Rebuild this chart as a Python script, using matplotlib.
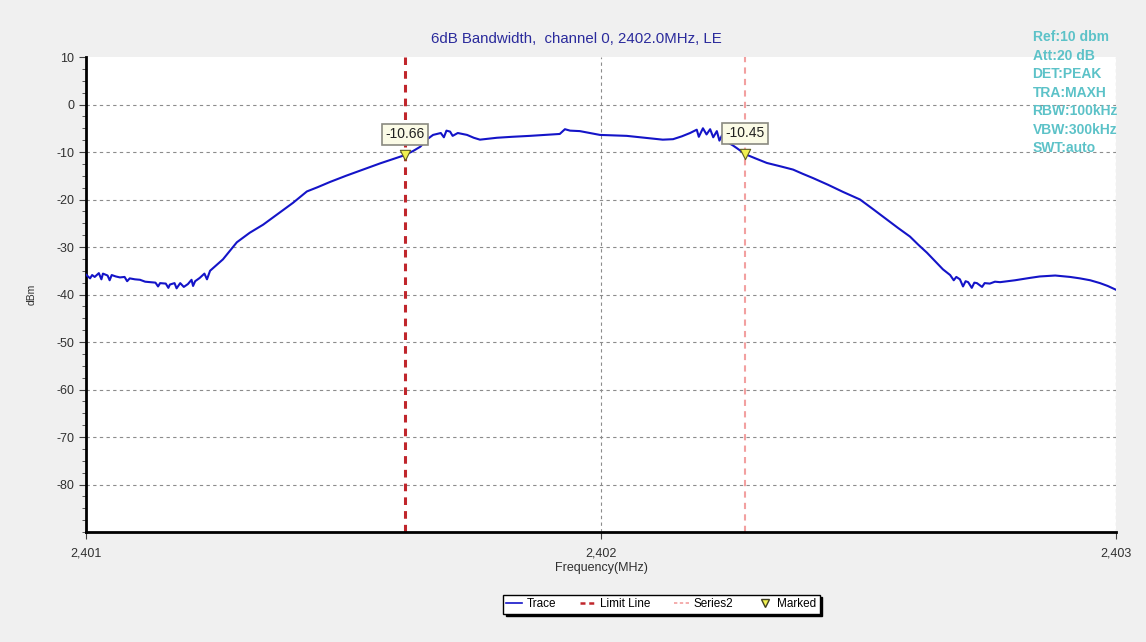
import matplotlib
matplotlib.use("Agg")
import matplotlib.pyplot as plt
from matplotlib.ticker import MultipleLocator, FuncFormatter
from matplotlib.lines import Line2D

plt.rcParams['font.family'] = ['Liberation Sans', 'DejaVu Sans']
plt.rcParams['axes.unicode_minus'] = False

# trace (MHz, dBm), spikes included
freq = [2401.000, 2401.008, 2401.012, 2401.017, 2401.025, 2401.030, 2401.033, 2401.042,
        2401.046, 2401.050, 2401.058, 2401.066, 2401.075, 2401.080, 2401.085, 2401.095,
        2401.105, 2401.115, 2401.124, 2401.135, 2401.140, 2401.144, 2401.155, 2401.160,
        2401.163, 2401.172, 2401.176, 2401.183, 2401.190, 2401.198, 2401.205, 2401.208,
        2401.212, 2401.221, 2401.230, 2401.235, 2401.241, 2401.266,
        2401.293, 2401.318, 2401.344, 2401.373, 2401.402, 2401.429, 2401.450, 2401.474,
        2401.505, 2401.538, 2401.571, 2401.596, 2401.619, 2401.635, 2401.649, 2401.664,
        2401.674, 2401.689, 2401.695, 2401.700, 2401.707, 2401.712, 2401.722, 2401.740,
        2401.753, 2401.765, 2401.781,
        2401.798, 2401.827, 2401.862, 2401.891, 2401.920, 2401.930, 2401.940, 2401.959,
        2401.979, 2401.998, 2402.023, 2402.050, 2402.076, 2402.101, 2402.120, 2402.140,
        2402.157, 2402.173, 2402.186, 2402.190, 2402.198, 2402.205, 2402.212, 2402.218,
        2402.225, 2402.230, 2402.235, 2402.245, 2402.256,
        2402.264, 2402.280, 2402.299, 2402.322, 2402.348, 2402.373, 2402.392, 2402.412,
        2402.441, 2402.470, 2402.503, 2402.528, 2402.555, 2402.577, 2402.600, 2402.616,
        2402.633, 2402.649, 2402.664, 2402.678, 2402.685, 2402.690, 2402.697, 2402.703,
        2402.708, 2402.713, 2402.720, 2402.725, 2402.730, 2402.740, 2402.745, 2402.755,
        2402.765, 2402.775, 2402.804, 2402.833, 2402.852, 2402.882, 2402.911, 2402.930,
        2402.950, 2402.969, 2402.984, 2403.000]
level = [-35.8, -36.6, -35.9, -36.3, -35.5, -36.8, -35.6, -36.0,
         -37.0, -35.9, -36.2, -36.4, -36.3, -37.2, -36.6, -36.8,
         -36.9, -37.3, -37.4, -37.5, -38.3, -37.6, -37.7, -38.6,
         -37.9, -37.6, -38.7, -37.6, -38.4, -37.8, -36.9, -38.2,
         -37.2, -36.5, -35.6, -36.8, -35.0, -32.6,
         -29.0, -27.0, -25.3, -23.0, -20.7, -18.3, -17.4, -16.3,
         -15.0, -13.7, -12.4, -11.5, -10.66, -9.8, -8.9, -7.2,
         -6.4, -6.0, -6.9, -5.5, -5.7, -6.6, -6.0, -6.4,
         -7.0, -7.4, -7.2,
         -7.0, -6.8, -6.6, -6.4, -6.2, -5.2, -5.5, -5.6,
         -6.0, -6.4, -6.5, -6.6, -6.9, -7.2, -7.4, -7.3,
         -6.7, -6.0, -5.3, -6.8, -5.0, -6.3, -5.2, -6.9,
         -5.6, -7.6, -6.5, -7.9, -8.6,
         -9.2, -10.45, -11.3, -12.3, -13.0, -13.7, -14.6, -15.5,
         -16.9, -18.4, -20.0, -22.0, -24.2, -26.0, -27.8, -29.5,
         -31.2, -33.0, -34.7, -35.9, -37.0, -36.3, -36.8, -38.3,
         -37.2, -37.4, -38.6, -37.5, -37.6, -38.4, -37.6, -37.7,
         -37.3, -37.4, -37.0, -36.5, -36.2, -36.0, -36.3, -36.6,
         -37.0, -37.6, -38.2, -39.0]

limit_freq = 2401.619
series2_freq = 2402.280
mark_freq = [2401.619, 2402.280]
mark_level = [-10.66, -10.45]

info = ["Ref:10 dbm", "Att:20 dB", "DET:PEAK", "TRA:MAXH",
        "RBW:100kHz", "VBW:300kHz", "SWT:auto"]

bg = "#f0f0f0"
fig = plt.figure(figsize=(11.46, 6.42), dpi=100, facecolor=bg)
ax = fig.add_axes([0.075, 0.1713, 0.8988, 0.7399])
ax.set_facecolor("white")

ax.plot(freq, level, color="#1414c8", lw=1.5, zorder=3)
ax.axvline(limit_freq, color="#c0262c", ls=(0, (2.5, 2)), lw=2.2, zorder=2)
ax.axvline(series2_freq, color="#f2a0a0", ls=(0, (3, 2.5)), lw=1.5, zorder=2)
ax.scatter(mark_freq, mark_level, marker="v", s=55, facecolor="#f0f050",
           edgecolor="#606020", lw=0.8, zorder=5)
for f, v in zip(mark_freq, mark_level):
    ax.annotate("{:.2f}".format(v), (f, v), xytext=(0, 15), textcoords="offset points",
                ha="center", va="center", fontsize=10, color="#202020", zorder=6,
                bbox=dict(boxstyle="square,pad=0.25", fc="#fbfbe6", ec="#8a8a80", lw=1.2))

ax.set_xlim(2401, 2403)
ax.set_ylim(-90, 10)
ax.xaxis.set_major_locator(MultipleLocator(1))
ax.yaxis.set_minor_locator(MultipleLocator(2.5))
ax.xaxis.set_major_formatter(FuncFormatter(lambda x, p: "{:,.0f}".format(x)))
ax.set_yticks([10, 0, -10, -20, -30, -40, -50, -60, -70, -80])
ax.grid(True, which="major", color="#8c8c8c", ls=(0, (3, 3)), lw=0.8)
ax.get_ygridlines()[0].set_visible(False)

for s in ["top", "right"]:
    ax.spines[s].set_visible(False)
for s in ["left", "bottom"]:
    ax.spines[s].set_linewidth(2)
ax.tick_params(axis="both", which="major", labelsize=9, labelcolor="#303030",
               length=5, width=0.8, color="#404040")
ax.tick_params(axis="y", which="minor", length=3, width=0.6, color="#404040")
ax.tick_params(axis="x", pad=6)

ax.set_xlabel("Frequency(MHz)", fontsize=9, color="#303030", labelpad=2)
ax.set_ylabel("dBm", fontsize=7.5, color="#303030", labelpad=14)

fig.text(0.503, 0.94, "6dB Bandwidth,  channel 0, 2402.0MHz, LE", ha="center",
         va="center", fontsize=10.8, color="#2b2b9c")

for i, t in enumerate(info):
    fig.text(0.901, 0.942 - i * 0.0288, t, ha="left", va="center", fontsize=10,
             fontweight="bold", color="#5cc2c8")

handles = [Line2D([], [], color="#1414c8", lw=1.2),
           Line2D([], [], color="#c0262c", lw=1.8, ls=(0, (2, 1.5))),
           Line2D([], [], color="#f2a0a0", lw=1.2, ls=(0, (2, 1.5))),
           Line2D([], [], ls="none", marker="v", markersize=6, markerfacecolor="#f0f050",
                  markeredgecolor="#404020")]
fig.legend(handles, ["Trace", "Limit Line", "Series2", "Marked"], loc="center",
           bbox_to_anchor=(0.577, 0.059), ncol=4, fontsize=8.5, frameon=True,
           fancybox=False, edgecolor="black", handlelength=1.3, handletextpad=0.4,
           columnspacing=2.0, borderpad=0.3, shadow={"color": "black", "alpha": 1.0})

fig.savefig("out.png", dpi=100, facecolor=bg)
